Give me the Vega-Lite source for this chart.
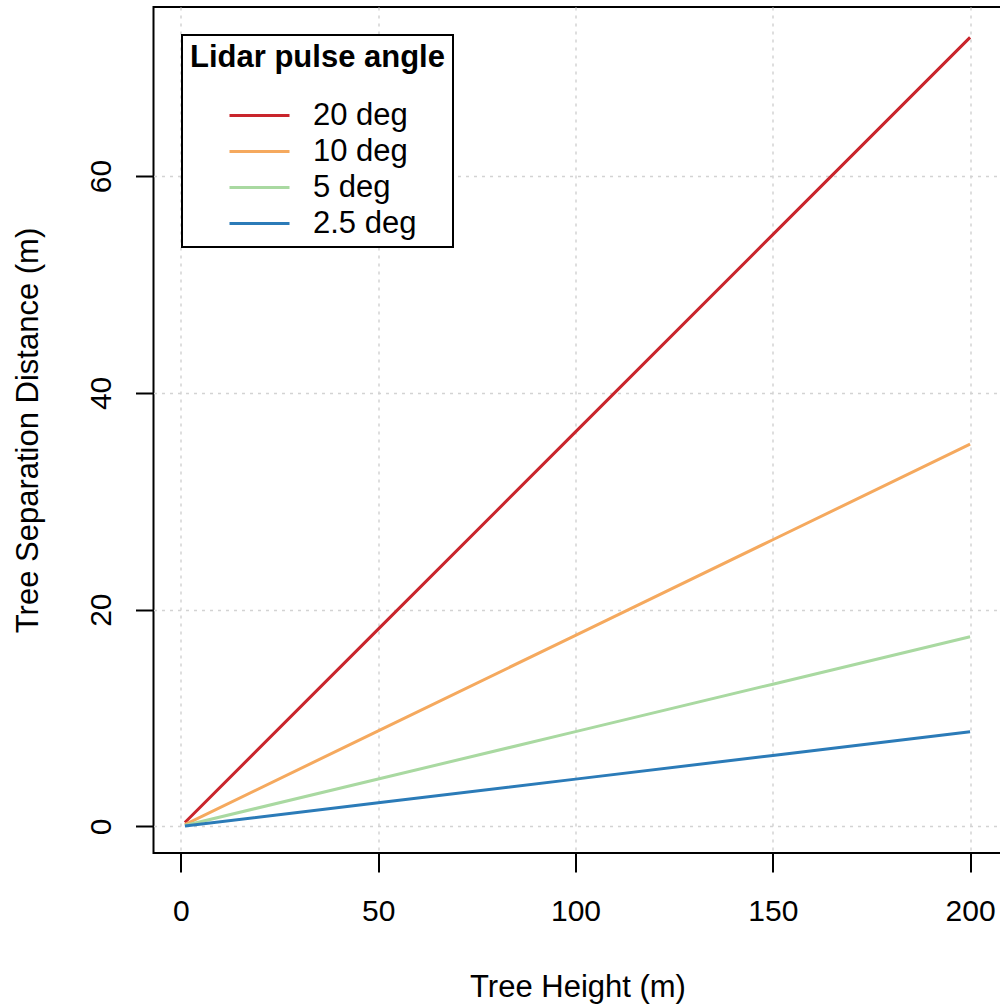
{
  "$schema": "https://vega.github.io/schema/vega-lite/v6.json",
  "width": 848,
  "height": 846,
  "autosize": {"type": "none"},
  "padding": {"left": 153.5, "top": 7, "right": 0, "bottom": 152},
  "background": "white",
  "config": {
    "view": {"stroke": "black", "strokeWidth": 2},
    "font": "Liberation Sans"
  },
  "data": {
    "values": [
      {"height": 1, "separation": 0.364, "angle": "20 deg"},
      {"height": 50, "separation": 18.199, "angle": "20 deg"},
      {"height": 100, "separation": 36.397, "angle": "20 deg"},
      {"height": 150, "separation": 54.596, "angle": "20 deg"},
      {"height": 200, "separation": 72.794, "angle": "20 deg"},
      {"height": 1, "separation": 0.176, "angle": "10 deg"},
      {"height": 50, "separation": 8.816, "angle": "10 deg"},
      {"height": 100, "separation": 17.633, "angle": "10 deg"},
      {"height": 150, "separation": 26.449, "angle": "10 deg"},
      {"height": 200, "separation": 35.265, "angle": "10 deg"},
      {"height": 1, "separation": 0.087, "angle": "5 deg"},
      {"height": 50, "separation": 4.374, "angle": "5 deg"},
      {"height": 100, "separation": 8.749, "angle": "5 deg"},
      {"height": 150, "separation": 13.123, "angle": "5 deg"},
      {"height": 200, "separation": 17.498, "angle": "5 deg"},
      {"height": 1, "separation": 0.044, "angle": "2.5 deg"},
      {"height": 50, "separation": 2.183, "angle": "2.5 deg"},
      {"height": 100, "separation": 4.366, "angle": "2.5 deg"},
      {"height": 150, "separation": 6.549, "angle": "2.5 deg"},
      {"height": 200, "separation": 8.732, "angle": "2.5 deg"}
    ]
  },
  "mark": {"type": "line", "strokeWidth": 3, "clip": true},
  "encoding": {
    "x": {
      "field": "height",
      "type": "quantitative",
      "scale": {"domain": [-6.96, 207.96], "nice": false, "zero": false},
      "axis": {
        "title": "Tree Height (m)",
        "values": [0, 50, 100, 150, 200],
        "domain": false,
        "tickSize": 19,
        "tickWidth": 2,
        "tickColor": "black",
        "labelFontSize": 30,
        "labelColor": "black",
        "labelPadding": 24,
        "labelFlush": false,
        "labelOverlap": false,
        "titleFontSize": 31,
        "titleFontWeight": "normal",
        "titleColor": "black",
        "titleBaseline": "alphabetic",
        "titleY": 143,
        "grid": true,
        "gridColor": "#d3d3d3",
        "gridDash": [3, 5],
        "gridWidth": 1.5
      }
    },
    "y": {
      "field": "separation",
      "type": "quantitative",
      "scale": {"domain": [-2.45, 75.6], "nice": false, "zero": false},
      "axis": {
        "title": "Tree Separation Distance (m)",
        "values": [0, 20, 40, 60],
        "domain": false,
        "tickSize": 18,
        "tickWidth": 2,
        "tickColor": "black",
        "labelFontSize": 30,
        "labelColor": "black",
        "labelAngle": 270,
        "labelAlign": "center",
        "labelBaseline": "alphabetic",
        "labelPadding": 25,
        "labelFlush": false,
        "labelOverlap": false,
        "titleFontSize": 31,
        "titleFontWeight": "normal",
        "titleColor": "black",
        "titleAngle": 270,
        "titleAlign": "center",
        "titleBaseline": "alphabetic",
        "titleX": -116,
        "titleY": 423,
        "titleLimit": 0,
        "grid": true,
        "gridColor": "#d3d3d3",
        "gridDash": [3, 5],
        "gridWidth": 1.5
      }
    },
    "color": {
      "field": "angle",
      "type": "nominal",
      "scale": {
        "domain": ["20 deg", "10 deg", "5 deg", "2.5 deg"],
        "range": ["#c9252c", "#f5a95e", "#a9d9a1", "#2b7bb8"]
      },
      "legend": {
        "orient": "none",
        "legendX": 28.5,
        "legendY": 28,
        "title": "Lidar pulse angle",
        "titleFontSize": 31,
        "titleFontWeight": "bold",
        "titleColor": "black",
        "titleLimit": 0,
        "titlePadding": 25,
        "labelFontSize": 31,
        "labelColor": "black",
        "labelOffset": 37,
        "labelLimit": 0,
        "symbolType": "M-2,0H2",
        "symbolSize": 900,
        "symbolStrokeWidth": 3,
        "symbolOffset": 53,
        "rowPadding": 4,
        "padding": 8,
        "fillColor": "white",
        "strokeColor": "black",
        "encode": {"legend": {"update": {"strokeWidth": {"value": 2}}}}
      }
    }
  }
}
